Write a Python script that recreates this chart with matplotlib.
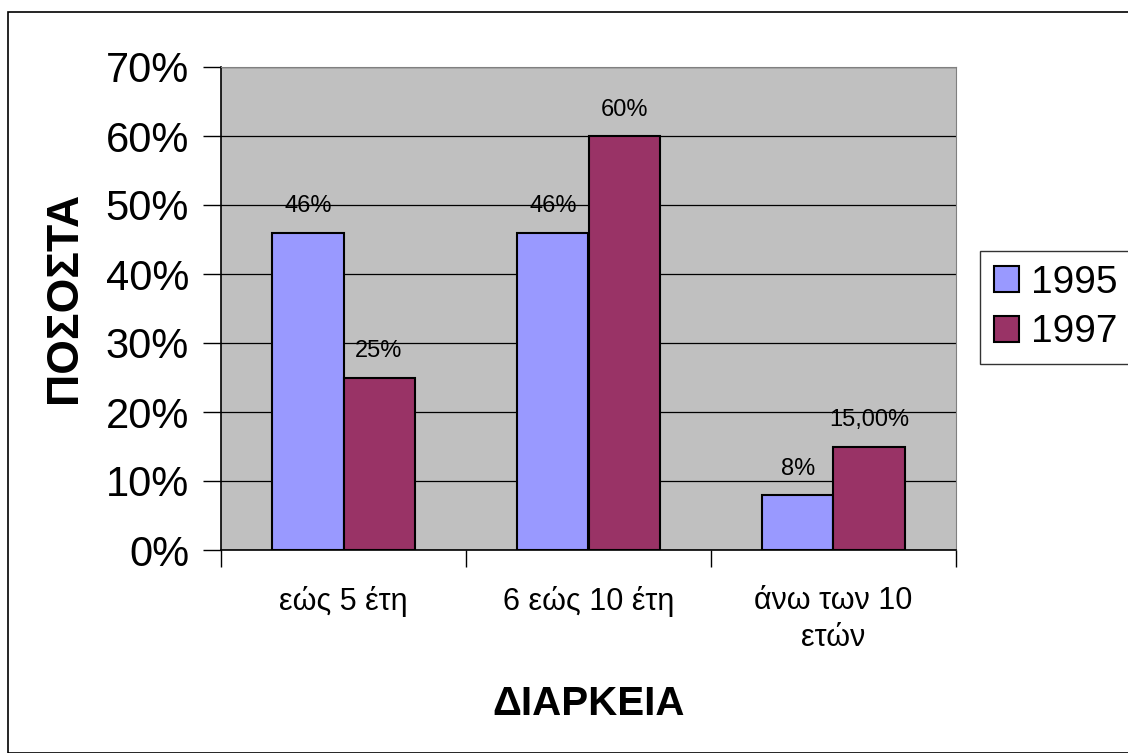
import numpy as np
import matplotlib.pyplot as plt
from matplotlib.patches import Rectangle
from matplotlib.ticker import FixedLocator, PercentFormatter

plt.rcParams['font.family'] = ['Liberation Sans', 'DejaVu Sans']

# data
categories = ['εώς 5 έτη', '6 εώς 10 έτη', 'άνω των 10\nετών']
years = ['1995', '1997']
vals_1995 = [46, 46, 8]
vals_1997 = [25, 60, 15]
labels_1995 = ['46%', '46%', '8%']
labels_1997 = ['25%', '60%', '15,00%']
colors = ['#9999FF', '#993366']

fig = plt.figure(figsize=(11.28, 7.53), dpi=100)
# outer chart frame
fig.patches.append(Rectangle((8 / 1128, 0.0), 1.2, 1 - 12 / 753, transform=fig.transFigure,
                             fill=False, edgecolor='black', linewidth=1.2))

ax = fig.add_axes([221 / 1128, 1 - 550 / 753, 735 / 1128, 483 / 753])
ax.set_facecolor('#C0C0C0')

x = np.arange(len(categories))
w = 0.29
b1 = ax.bar(x - w / 2, vals_1995, w, color=colors[0], edgecolor='black', linewidth=1.5,
            label=years[0], zorder=3)
b2 = ax.bar(x + w / 2, vals_1997, w, color=colors[1], edgecolor='black', linewidth=1.5,
            label=years[1], zorder=3)

for bars, labs in [(b1, labels_1995), (b2, labels_1997)]:
    for rect, lab in zip(bars, labs):
        ax.annotate(lab, (rect.get_x() + rect.get_width() / 2, rect.get_height()),
                    xytext=(0, 11), textcoords='offset points', ha='center', va='bottom',
                    fontsize=17, zorder=4)

ax.set_ylim(0, 70)
ax.set_xlim(-0.5, 2.5)
ax.set_yticks(np.arange(0, 71, 10))
ax.yaxis.set_major_formatter(PercentFormatter(decimals=0))
ax.tick_params(axis='y', labelsize=30, length=13, width=1, pad=10, direction='out')
ax.grid(axis='y', color='black', linewidth=0.9, zorder=1)

ax.set_xticks(x)
ax.set_xticklabels(categories, fontsize=22, linespacing=1.3)
ax.tick_params(axis='x', which='major', length=0, pad=26)
ax.xaxis.set_minor_locator(FixedLocator([-0.5, 0.5, 1.5, 2.5]))
ax.tick_params(axis='x', which='minor', length=12, width=1, direction='out')

for s in ['top', 'right']:
    ax.spines[s].set_color('#808080')
for s in ['left', 'bottom']:
    ax.spines[s].set_color('black')
    ax.spines[s].set_linewidth(1.2)

ax.set_ylabel('ΠΟΣΟΣΤΑ', fontsize=32, fontweight='bold')
ax.yaxis.set_label_coords(-0.185, 0.523)
ax.set_xlabel('ΔΙΑΡΚΕΙΑ', fontsize=29, fontweight='bold')
ax.xaxis.set_label_coords(0.5, -0.279)

leg = fig.legend(handles=[b1, b2], loc='upper left', bbox_to_anchor=(980 / 1128, 1 - 251 / 753),
                 fontsize=28, frameon=True, fancybox=False, edgecolor='black',
                 handlelength=0.65, handleheight=0.65, handletextpad=0.3, borderpad=0.35,
                 labelspacing=0.35, borderaxespad=0)
leg.get_frame().set_linewidth(1.0)

fig.savefig('out.png', dpi=100)
